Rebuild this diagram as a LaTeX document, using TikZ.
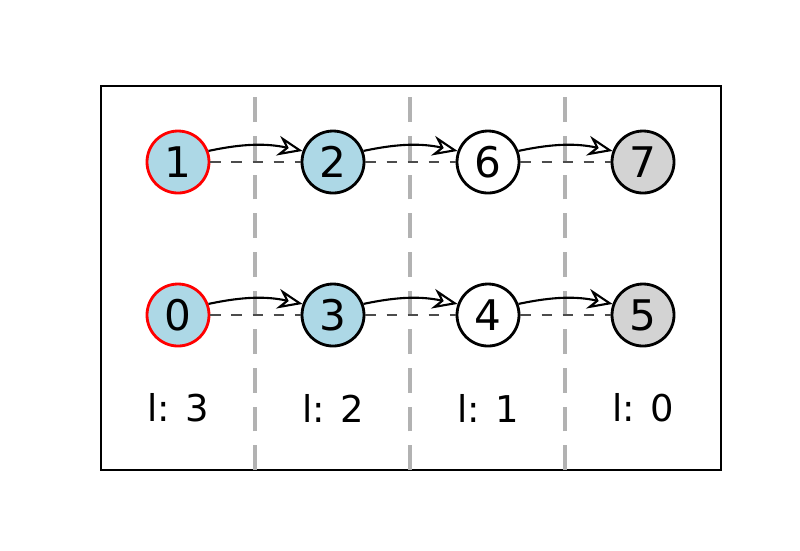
\documentclass[tikz,border=0pt]{standalone}
\usepackage{fontspec}
\setmainfont{DejaVu Sans}
\usetikzlibrary{arrows.meta, positioning}
\definecolor{lightblue}{RGB}{173,216,230}
\definecolor{lightgray}{RGB}{211,211,211}
\begin{document}
\begin{tikzpicture}[every node/.style={font=\fontsize{12}{14}\selectfont},
    vert/.style={draw, thick, circle, minimum size=0.62cm, inner sep=0pt},
    link/.style={->, semithick, >={Stealth[open, length=2.5mm, width=2mm]}}]
        \useasboundingbox (0,0) rectangle (8,5.5);
        % Frame and columns
        \draw[semithick] (1.01,0.80) rectangle (7.21,4.64);
        \foreach \x in {2.55,4.10,5.65}
            \draw[line width=1.2pt, gray!60, dash pattern=on 7pt off 4pt] (\x,0.80) -- (\x,4.64);
        % Top row
        \node[vert, draw=red, fill=lightblue] (v1) at (1.78,3.88) {1};
        \node[vert, fill=lightblue] (v2) at (3.33,3.88) {2};
        \node[vert, fill=white] (v6) at (4.88,3.88) {6};
        \node[vert, fill=lightgray] (v7) at (6.43,3.88) {7};
        % Bottom row
        \node[vert, draw=red, fill=lightblue] (v0) at (1.78,2.35) {0};
        \node[vert, fill=lightblue] (v3) at (3.33,2.35) {3};
        \node[vert, fill=white] (v4) at (4.88,2.35) {4};
        \node[vert, fill=lightgray] (v5) at (6.43,2.35) {5};
        % Links
        \foreach \a/\b in {v1/v2, v2/v6, v6/v7, v0/v3, v3/v4, v4/v5} {
            \draw[semithick, dashed, black!70] (\a.east) -- (\b.west);
            \draw[link] (\a.20) to[bend left=12] (\b.160);
        }
        % Levels
        \node[font=\fontsize{10.5}{12}\selectfont] (l3) at (1.78,1.42) {l: 3};
        \node[font=\fontsize{10.5}{12}\selectfont] (l2) at (3.33,1.42) {l: 2};
        \node[font=\fontsize{10.5}{12}\selectfont] (l1) at (4.88,1.42) {l: 1};
        \node[font=\fontsize{10.5}{12}\selectfont] (l0) at (6.43,1.42) {l: 0};
\end{tikzpicture}
\end{document}
